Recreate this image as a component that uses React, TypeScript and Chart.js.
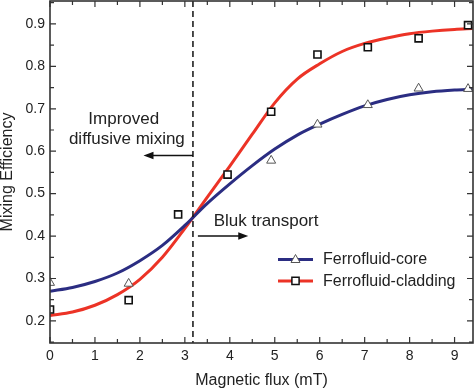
import React, { useEffect, useRef } from 'react';
import { Chart, registerables } from 'chart.js';

Chart.register(...registerables);

// Fitted curves
const curveX = [0, 0.5, 1, 1.5, 2, 2.5, 3, 3.5, 4, 4.5, 5, 5.5, 6, 6.5, 7, 7.5, 8, 8.5, 9, 9.4];
const coreFit = [0.270, 0.279, 0.293, 0.313, 0.342, 0.378, 0.425, 0.477, 0.523, 0.566, 0.605, 0.638, 0.664, 0.687, 0.707, 0.722, 0.733, 0.740, 0.744, 0.746];
const claddingFit = [0.213, 0.221, 0.237, 0.262, 0.298, 0.350, 0.418, 0.492, 0.565, 0.640, 0.714, 0.770, 0.806, 0.835, 0.854, 0.867, 0.877, 0.883, 0.887, 0.889];

// Measured points
const coreX = [0, 1.75, 4.92, 5.95, 7.07, 8.2, 9.3];
const coreY = [0.29, 0.288, 0.578, 0.663, 0.709, 0.748, 0.747];
const claddingX = [0, 1.75, 2.85, 3.95, 4.92, 5.95, 7.07, 8.2, 9.3];
const claddingY = [0.227, 0.249, 0.451, 0.545, 0.693, 0.828, 0.845, 0.866, 0.897];

const seriesNames = ['Ferrofluid-core', 'Ferrofluid-cladding'];
const xTicks = [0, 1, 2, 3, 4, 5, 6, 7, 8, 9];
const yTicks = [0.2, 0.3, 0.4, 0.5, 0.6, 0.7, 0.8, 0.9];
const xTitle = 'Magnetic flux (mT)';
const yTitle = 'Mixing Efficiency';

// Annotations (data units)
const dividerX = 3.18;
const leftNote = ['Improved', 'diffusive mixing'];
const rightNote = 'Bluk transport';

const FONT = '"Liberation Sans", Arial, Helvetica, sans-serif';
const BLUE = '#2b2d82';
const RED = '#ec3326';

const pts = (xs: number[], ys: number[]) => xs.map((x, i) => ({ x, y: ys[i] }));

const decorPlugin = {
  id: 'decor',
  afterDatasetsDraw(chart: any) {
    const { ctx, chartArea: a, scales } = chart;
    const xs = scales.x;
    const ys = scales.y;
    const X = (v: number) => xs.getPixelForValue(v);
    const Y = (v: number) => ys.getPixelForValue(v);
    ctx.save();

    // dashed divider
    ctx.strokeStyle = '#111';
    ctx.lineWidth = 1.5;
    ctx.setLineDash([6, 4]);
    ctx.beginPath();
    ctx.moveTo(X(dividerX), a.top);
    ctx.lineTo(X(dividerX), a.bottom);
    ctx.stroke();
    ctx.setLineDash([]);

    // arrows
    const arrow = (x0: number, x1: number, y: number) => {
      const px0 = X(x0), px1 = X(x1), py = Y(y);
      const dir = px1 > px0 ? 1 : -1;
      ctx.strokeStyle = '#111';
      ctx.fillStyle = '#111';
      ctx.lineWidth = 1.5;
      ctx.beginPath();
      ctx.moveTo(px0, py);
      ctx.lineTo(px1 - dir * 8, py);
      ctx.stroke();
      ctx.beginPath();
      ctx.moveTo(px1, py);
      ctx.lineTo(px1 - dir * 10, py - 3.8);
      ctx.lineTo(px1 - dir * 10, py + 3.8);
      ctx.closePath();
      ctx.fill();
    };
    arrow(dividerX, 2.08, 0.59);
    arrow(3.29, 4.41, 0.4);

    // annotation texts
    ctx.fillStyle = '#222';
    ctx.font = `17px ${FONT}`;
    ctx.textBaseline = 'alphabetic';
    ctx.textAlign = 'center';
    ctx.fillText(leftNote[0], X(1.64), Y(0.664));
    ctx.fillText(leftNote[1], X(1.71), Y(0.616));
    ctx.textAlign = 'left';
    ctx.fillText(rightNote, X(3.64), Y(0.424));

    // legend
    const ds = chart.data.datasets;
    const items = [
      { name: seriesNames[0], line: ds[2].borderColor, style: 'triangle' },
      { name: seriesNames[1], line: ds[3].borderColor, style: 'rect' },
    ];
    items.forEach((it, i) => {
      const cy = a.bottom - 83.5 + i * 21.4;
      const lx0 = a.right - 195;
      const lx1 = a.right - 160;
      const cx = (lx0 + lx1) / 2;
      ctx.strokeStyle = it.line;
      ctx.lineWidth = 3;
      ctx.beginPath();
      ctx.moveTo(lx0, cy);
      ctx.lineTo(lx1, cy);
      ctx.stroke();
      ctx.fillStyle = '#fff';
      ctx.beginPath();
      if (it.style === 'triangle') {
        ctx.strokeStyle = '#555';
        ctx.lineWidth = 1;
        ctx.moveTo(cx, cy - 5);
        ctx.lineTo(cx + 4.5, cy + 3);
        ctx.lineTo(cx - 4.5, cy + 3);
        ctx.closePath();
      } else {
        ctx.strokeStyle = '#111';
        ctx.lineWidth = 1.5;
        ctx.rect(cx - 3.6, cy - 3.6, 7.2, 7.2);
      }
      ctx.fill();
      ctx.stroke();
      ctx.fillStyle = '#222';
      ctx.font = `16px ${FONT}`;
      ctx.textAlign = 'left';
      ctx.textBaseline = 'middle';
      ctx.fillText(it.name, a.right - 150, cy + 0.5);
    });

    // frame
    ctx.strokeStyle = '#333';
    ctx.lineWidth = 1.6;
    ctx.strokeRect(a.left, a.top, a.right - a.left, a.bottom - a.top);

    // inward ticks on all sides
    ctx.lineWidth = 1.2;
    ctx.strokeStyle = '#333';
    const xmax = xs.max, ymin = ys.min, ymax = ys.max;
    ctx.beginPath();
    xTicks.forEach((v) => {
      [[v, 6], [v + 0.5, 4]].forEach(([t, len]) => {
        if (t > xmax) return;
        const px = X(t);
        ctx.moveTo(px, a.bottom);
        ctx.lineTo(px, a.bottom - len);
        ctx.moveTo(px, a.top);
        ctx.lineTo(px, a.top + len);
      });
    });
    const yMinor = [0.15, ...yTicks.map((v) => v + 0.05)];
    yTicks.forEach((v) => {
      const py = Y(v);
      ctx.moveTo(a.left, py);
      ctx.lineTo(a.left + 6, py);
      ctx.moveTo(a.right, py);
      ctx.lineTo(a.right - 6, py);
    });
    yMinor.forEach((v) => {
      if (v < ymin || v > ymax) return;
      const py = Y(v);
      ctx.moveTo(a.left, py);
      ctx.lineTo(a.left + 4, py);
      ctx.moveTo(a.right, py);
      ctx.lineTo(a.right - 4, py);
    });
    ctx.stroke();
    ctx.restore();
  },
};

export default function App() {
  const ref = useRef<HTMLCanvasElement | null>(null);
  useEffect(() => {
    document.body.style.margin = '0';
    const chart = new Chart(ref.current as HTMLCanvasElement, {
      type: 'scatter',
      data: {
        datasets: [
          {
            label: seriesNames[0] + ' data',
            data: pts(coreX, coreY),
            pointStyle: 'triangle',
            pointRadius: 5.2,
            pointBackgroundColor: '#fff',
            pointBorderColor: '#555',
            pointBorderWidth: 1,
            showLine: false,
            order: 0,
          },
          {
            label: seriesNames[1] + ' data',
            data: pts(claddingX, claddingY),
            pointStyle: 'rect',
            pointRadius: 5,
            pointBackgroundColor: '#fff',
            pointBorderColor: '#111',
            pointBorderWidth: 1.6,
            showLine: false,
            order: 0,
          },
          {
            label: seriesNames[0],
            data: pts(curveX, coreFit),
            showLine: true,
            borderColor: BLUE,
            borderWidth: 3,
            pointRadius: 0,
            cubicInterpolationMode: 'monotone',
            order: 1,
          },
          {
            label: seriesNames[1],
            data: pts(curveX, claddingFit),
            showLine: true,
            borderColor: RED,
            borderWidth: 3,
            pointRadius: 0,
            cubicInterpolationMode: 'monotone',
            order: 1,
          },
        ],
      },
      options: {
        animation: false,
        responsive: true,
        maintainAspectRatio: false,
        layout: { autoPadding: false, padding: { top: 1, right: 1, left: 0, bottom: 0 } },
        plugins: { legend: { display: false }, tooltip: { enabled: false } },
        scales: {
          x: {
            type: 'linear',
            min: 0,
            max: 9.41,
            afterBuildTicks: (s: any) => { s.ticks = xTicks.map((v) => ({ value: v })); },
            afterFit: (s: any) => { s.height = 47; s.paddingLeft = 0; s.paddingRight = 0; },
            grid: { display: false, drawTicks: false },
            border: { display: false },
            ticks: {
              padding: 5,
              color: '#222',
              font: { family: FONT, size: 14 },
              callback: (v: any) => String(v),
            },
            title: {
              display: true,
              text: xTitle,
              color: '#222',
              font: { family: FONT, size: 16, lineHeight: 1 },
              padding: { top: 0, bottom: 1 },
            },
          },
          y: {
            type: 'linear',
            min: 0.148,
            max: 0.954,
            afterBuildTicks: (s: any) => { s.ticks = yTicks.map((v) => ({ value: v })); },
            afterFit: (s: any) => { s.width = 50; s.paddingTop = 0; s.paddingBottom = 0; },
            grid: { display: false, drawTicks: false },
            border: { display: false },
            ticks: {
              padding: 5,
              color: '#222',
              font: { family: FONT, size: 14 },
              callback: (v: any) => Number(v).toFixed(1),
            },
            title: {
              display: true,
              text: yTitle,
              color: '#222',
              font: { family: FONT, size: 16, lineHeight: 1 },
              padding: { top: 0, bottom: 0 },
            },
          },
        },
      },
      plugins: [decorPlugin],
    } as any);
    return () => chart.destroy();
  }, []);
  return (
    <div style={{ position: 'relative', width: 474, height: 390, background: '#fff' }}>
      <canvas ref={ref} />
    </div>
  );
}
